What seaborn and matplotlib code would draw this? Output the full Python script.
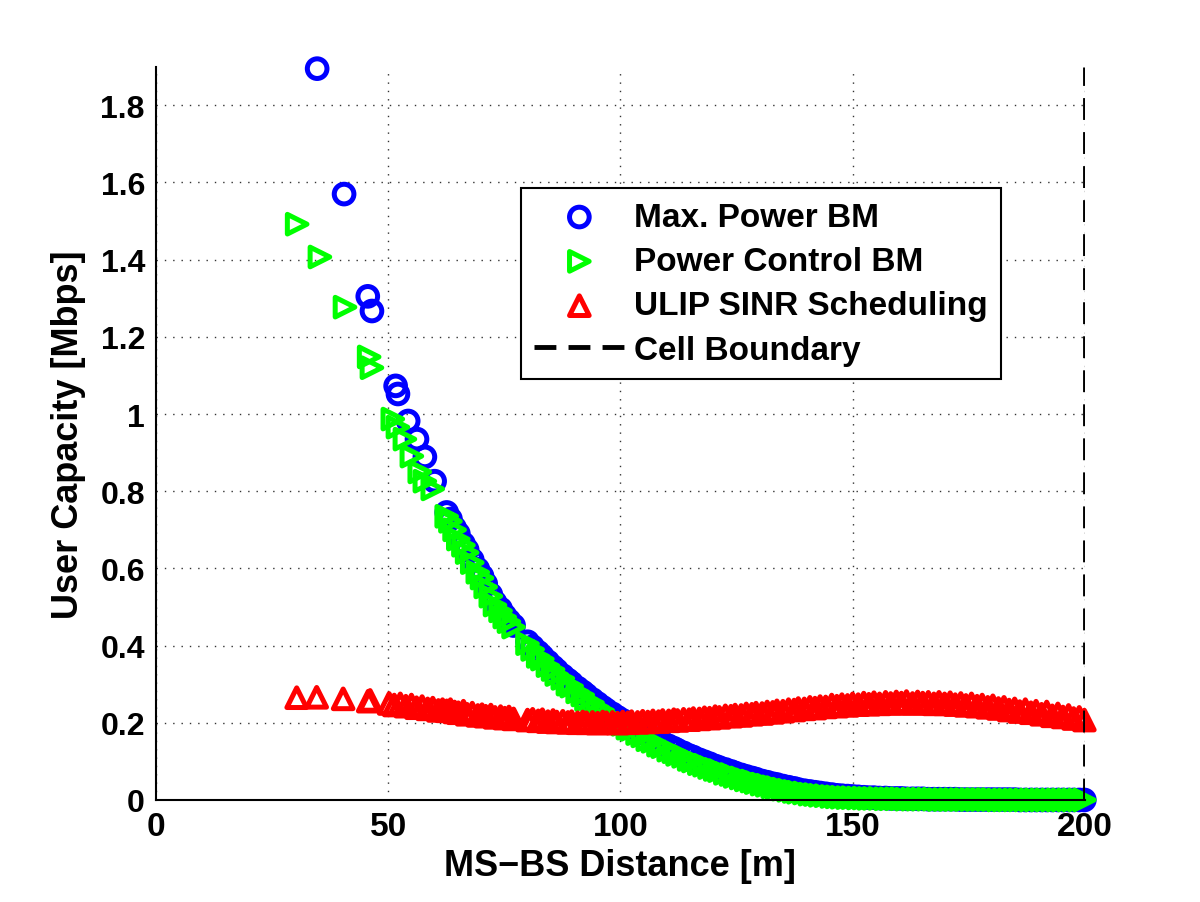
import numpy as np
import seaborn as sns
import matplotlib.pyplot as plt

# ---- data ----
# users close to the BS (sparse, clearly separated markers)
maxp_near_x = [34.7, 40.5, 45.6, 46.5, 51.6, 52.1, 54.3, 56.2, 57.9, 60.0]
maxp_near_y = [1.895, 1.570, 1.305, 1.267, 1.073, 1.052, 0.982, 0.935, 0.889, 0.826]

pc_near_x = [30.4, 35.3, 40.7, 45.9, 46.5, 51.0, 52.1, 53.6, 55.1, 56.8, 57.9, 59.6]
pc_near_y = [1.492, 1.407, 1.277, 1.148, 1.120, 0.987, 0.966, 0.935, 0.891, 0.850, 0.826, 0.806]

ulip_near_x = [30.3, 34.6, 40.3, 45.7, 46.1, 50.2, 51.3, 52.6, 53.8, 55.0, 56.1, 57.3,
               58.5, 59.6, 60.8, 61.7]
ulip_near_y = [0.265, 0.266, 0.262, 0.256, 0.258, 0.250, 0.246, 0.249, 0.243, 0.246, 0.239, 0.242,
               0.236, 0.238, 0.232, 0.234]

# remaining users (dense band), same distances for all three schemes
dist = [62.6, 63.4, 64.3, 65.1, 66.2, 67.0, 68.1, 69.3, 70.2, 71.0, 72.1, 73.0, 74.2, 75.1, 76.0, 77.0,
        80.0, 81.1, 82.3, 83.2, 84.4, 85.5, 86.3, 87.6, 88.7, 89.5, 90.8, 91.9, 92.7, 94.0, 95.1, 96.2,
        97.0, 98.3, 99.4, 100.5, 101.6, 102.4, 103.7, 104.8, 105.9, 107.0, 108.2, 109.1, 110.4, 111.5,
        112.3, 113.6, 114.8, 115.7, 117.0, 118.1, 119.2, 120.4, 121.3, 122.6, 123.8, 124.7, 126.0,
        127.1, 128.3, 129.2, 130.5, 131.6, 132.8, 133.7, 135.0, 136.2, 137.4, 138.3, 139.6, 140.8,
        141.9, 143.0, 144.2, 145.5, 146.6, 147.7, 148.9, 150.0, 151.2, 152.4, 153.5, 154.6, 155.8,
        157.1, 158.2, 159.4, 160.5, 161.6, 162.9, 164.0, 165.1, 166.3, 167.5, 168.6, 169.8, 171.0,
        172.1, 173.3, 174.4, 175.6, 176.8, 177.9, 179.1, 180.2, 181.4, 182.6, 183.7, 184.9, 186.0,
        187.2, 188.4, 189.5, 190.7, 191.8, 193.0, 194.2, 195.3, 196.5, 197.6, 198.8, 199.9]

maxp_cap = [0.745, 0.728, 0.705, 0.690, 0.664, 0.648, 0.622, 0.598, 0.580, 0.560, 0.532, 0.512, 0.495,
            0.478, 0.465, 0.452, 0.410, 0.397, 0.383, 0.372, 0.358, 0.345, 0.336, 0.322, 0.311, 0.303,
            0.290, 0.280, 0.272, 0.260, 0.250, 0.240, 0.233, 0.223, 0.214, 0.206, 0.198, 0.192, 0.183,
            0.175, 0.168, 0.161, 0.153, 0.148, 0.140, 0.134, 0.129, 0.122, 0.115, 0.111, 0.104, 0.099,
            0.094, 0.088, 0.084, 0.079, 0.074, 0.070, 0.065, 0.061, 0.057, 0.054, 0.049, 0.046, 0.042,
            0.040, 0.036, 0.033, 0.030, 0.027, 0.024, 0.022, 0.020, 0.018, 0.016, 0.014, 0.012, 0.011,
            0.010, 0.009, 0.008, 0.007, 0.006, 0.006, 0.005, 0.005, 0.004, 0.004, 0.004, 0.003, 0.003,
            0.003, 0.003, 0.002, 0.002, 0.002, 0.002, 0.002, 0.002, 0.001, 0.001, 0.001, 0.001, 0.001,
            0.001, 0.001, 0.001, 0.001, 0.001, 0.001, 0.000, 0.000, 0.000, 0.000, 0.000, 0.000, 0.000,
            0.000, 0.000, 0.000, 0.000, 0.000, 0.000]

pc_cap = [0.735, 0.722, 0.700, 0.676, 0.660, 0.641, 0.615, 0.590, 0.575, 0.552, 0.528, 0.505, 0.490,
          0.474, 0.462, 0.448, 0.405, 0.390, 0.372, 0.365, 0.348, 0.338, 0.325, 0.315, 0.300, 0.295,
          0.280, 0.272, 0.260, 0.252, 0.240, 0.232, 0.222, 0.214, 0.203, 0.196, 0.186, 0.183, 0.172,
          0.166, 0.156, 0.152, 0.142, 0.138, 0.129, 0.125, 0.118, 0.113, 0.105, 0.101, 0.094, 0.090,
          0.084, 0.079, 0.076, 0.069, 0.066, 0.061, 0.057, 0.052, 0.049, 0.045, 0.041, 0.038, 0.034,
          0.032, 0.028, 0.025, 0.022, 0.020, 0.018, 0.015, 0.014, 0.012, 0.011, 0.009, 0.008, 0.007,
          0.006, 0.006, 0.005, 0.005, 0.004, 0.004, 0.004, 0.003, 0.003, 0.003, 0.003, 0.002, 0.002,
          0.002, 0.002, 0.002, 0.002, 0.001, 0.001, 0.001, 0.001, 0.001, 0.001, 0.001, 0.001, 0.001,
          0.001, 0.001, 0.000, 0.000, 0.000, 0.000, 0.000, 0.000, 0.000, 0.000, 0.000, 0.000, 0.000,
          0.000, 0.000, 0.000, 0.000, 0.000, 0.000]

ulip_cap = [0.231, 0.234, 0.228, 0.226, 0.230, 0.222, 0.225, 0.219, 0.221, 0.217, 0.220, 0.214, 0.216,
            0.212, 0.215, 0.210, 0.207, 0.209, 0.205, 0.208, 0.203, 0.206, 0.202, 0.204, 0.201, 0.203,
            0.200, 0.202, 0.200, 0.201, 0.199, 0.202, 0.200, 0.201, 0.199, 0.202, 0.200, 0.203, 0.201,
            0.204, 0.202, 0.205, 0.203, 0.206, 0.205, 0.208, 0.206, 0.209, 0.208, 0.211, 0.210, 0.213,
            0.212, 0.216, 0.214, 0.218, 0.217, 0.220, 0.219, 0.223, 0.222, 0.225, 0.224, 0.228, 0.227,
            0.231, 0.230, 0.234, 0.233, 0.237, 0.236, 0.240, 0.238, 0.242, 0.241, 0.246, 0.243, 0.247,
            0.245, 0.249, 0.247, 0.251, 0.248, 0.252, 0.249, 0.253, 0.250, 0.254, 0.251, 0.255, 0.250,
            0.254, 0.251, 0.253, 0.249, 0.253, 0.249, 0.252, 0.247, 0.250, 0.245, 0.249, 0.243, 0.246,
            0.240, 0.244, 0.237, 0.240, 0.233, 0.236, 0.229, 0.234, 0.226, 0.230, 0.222, 0.228, 0.218,
            0.223, 0.215, 0.219, 0.211, 0.214, 0.207]

cell_radius = 200
x_ticks = [0, 50, 100, 150, 200]
y_ticks = [0, 0.2, 0.4, 0.6, 0.8, 1, 1.2, 1.4, 1.6, 1.8]

# ---- style ----
sns.set_theme(style="white")
plt.rcParams['font.family'] = ['Liberation Sans', 'DejaVu Sans']
plt.rcParams['font.weight'] = 'bold'
plt.rcParams['axes.labelweight'] = 'bold'
for key in ['text.color', 'axes.labelcolor', 'xtick.color', 'ytick.color']:
    plt.rcParams[key] = 'black'

fig = plt.figure(figsize=(12, 9.03), dpi=100)
ax = fig.add_axes([0.13, 0.113, 0.774, 0.812])

common = dict(s=200, facecolors='none', linewidth=3.6, clip_on=False, ax=ax)
sns.scatterplot(x=maxp_near_x + dist, y=maxp_near_y + maxp_cap, marker='o',
                edgecolor='#0000ff', label='Max. Power BM', **common)
sns.scatterplot(x=pc_near_x + dist, y=pc_near_y + pc_cap, marker='>',
                edgecolor='#00ff00', label='Power Control BM', **common)
sns.scatterplot(x=ulip_near_x + dist, y=ulip_near_y + ulip_cap, marker='^',
                edgecolor='#ff0000', label='ULIP SINR Scheduling', **common)
ax.axvline(cell_radius, color='black', linewidth=3.5, linestyle=(0, (4.5, 2.5)),
           label='Cell Boundary', zorder=5)

ax.set_xlim(0, 200)
ax.set_ylim(0, 1.9)
ax.set_xticks(x_ticks)
ax.set_yticks(y_ticks)
ax.set_yticklabels([f'{v:g}' for v in y_ticks])
ax.tick_params(axis='both', direction='in', length=8, width=1.2, labelsize=23, pad=8)
ax.tick_params(axis='x', labelsize=24)
ax.grid(True, linestyle=(0, (1, 5)), color='#333333', linewidth=1)

for side in ['top', 'right']:
    ax.spines[side].set_visible(False)
for side in ['left', 'bottom']:
    ax.spines[side].set_color('black')
    ax.spines[side].set_linewidth(1.5)

ax.set_xlabel('MS\u2212BS Distance [m]', fontsize=26, fontweight='bold', labelpad=4)
ax.set_ylabel('User Capacity [Mbps]', fontsize=26, fontweight='bold', labelpad=10)

leg = ax.legend(loc='upper left', bbox_to_anchor=(0.393, 0.834), borderaxespad=0,
                fontsize=24, handlelength=2.7, handletextpad=0.3, labelspacing=0.4,
                fancybox=False, framealpha=1, edgecolor='black', borderpad=0.4)
leg.get_frame().set_linewidth(1.5)
for t in leg.get_texts():
    t.set_fontweight('bold')

plt.savefig('out.png', dpi=100)
plt.close()
